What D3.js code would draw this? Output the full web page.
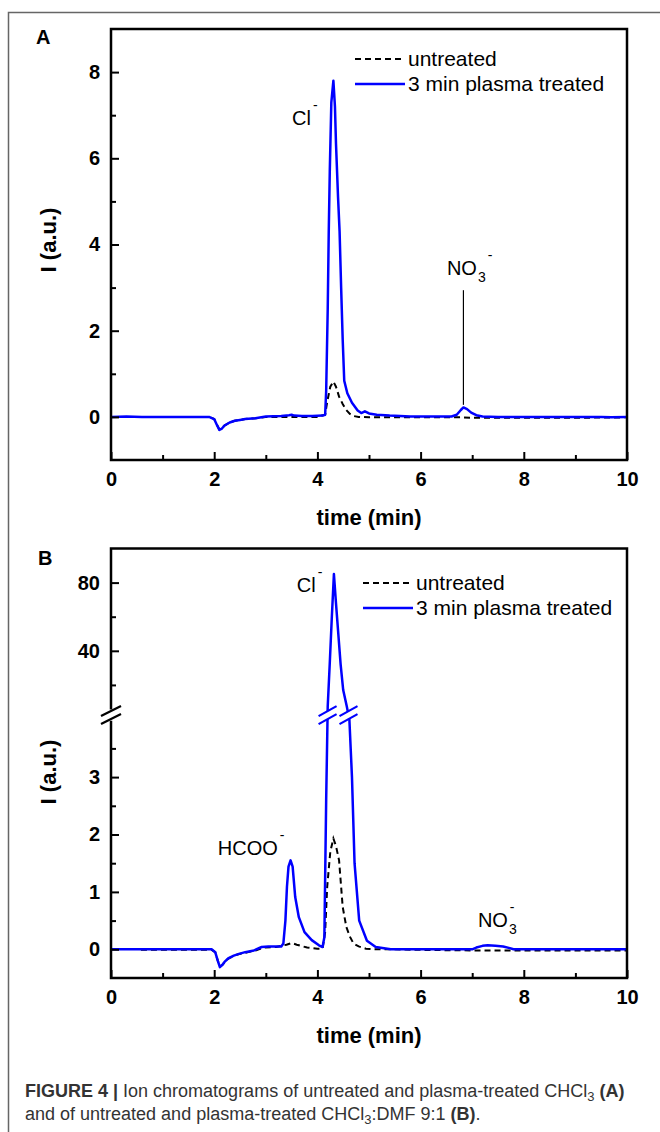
<!DOCTYPE html>
<html>
<head>
<meta charset="utf-8">
<script src="https://cdn.jsdelivr.net/npm/d3@7"></script>
<style>
  body { margin: 0; background: #fff; }
  svg { display: block; }
  text { font-family: "Liberation Sans", Arial, sans-serif; }
</style>
</head>
<body>
<div id="fig"></div>
<script>
// ticks
const xTicks = [0, 2, 4, 6, 8, 10]
const xMinor = [1, 3, 5, 7, 9]
const yTicksA = [0, 2, 4, 6, 8]
const yMinorA = [1, 3, 5, 7]
const yTicksLowB = [0, 1, 2, 3]
const yMinorLowB = [0.5, 1.5, 2.5, 3.5]
const yTicksHighB = [40, 80]
const yMinorHighB = [20, 60]

// panel A: CHCl3
const timeUntreatedA = [0, 1.9, 2.0, 2.05, 2.1, 2.15, 2.2, 2.3, 2.4, 2.5, 2.6, 2.8, 3.0, 3.5, 4.0, 4.15, 4.19, 4.25, 4.31, 4.36, 4.42, 4.49, 4.56, 4.63, 4.7, 4.8, 5.0, 5.5, 6.0, 6.5, 6.8, 7.0, 7.5, 8.0, 9.0, 10]
const untreatedA = [0, 0, -0.05, -0.18, -0.29, -0.26, -0.2, -0.13, -0.09, -0.07, -0.05, -0.03, 0, 0, 0, 0.05, 0.35, 0.7, 0.82, 0.7, 0.47, 0.3, 0.16, 0.07, 0.02, 0, -0.01, -0.01, -0.01, -0.01, -0.01, -0.02, -0.02, -0.02, -0.02, -0.01]
const timeTreatedA = [0, 0.3, 0.6, 1.0, 1.5, 1.9, 2.0, 2.05, 2.1, 2.15, 2.2, 2.3, 2.4, 2.5, 2.6, 2.8, 3.0, 3.3, 3.45, 3.5, 3.55, 3.7, 3.9, 4.1, 4.15, 4.17, 4.2, 4.22, 4.24, 4.27, 4.31, 4.34, 4.36, 4.4, 4.43, 4.46, 4.49, 4.52, 4.58, 4.67, 4.78, 4.85, 4.92, 5.0, 5.15, 5.4, 5.8, 6.2, 6.6, 6.7, 6.78, 6.83, 6.9, 6.98, 7.08, 7.2, 7.5, 8.0, 9.0, 9.5, 9.7, 10]
const treatedA = [0, 0.01, 0, 0, 0, 0, -0.05, -0.18, -0.3, -0.27, -0.2, -0.13, -0.09, -0.07, -0.05, -0.03, 0.01, 0.02, 0.04, 0.05, 0.03, 0.02, 0.02, 0.03, 0.05, 0.6, 2.5, 4.3, 5.7, 7.3, 7.8, 7.2, 6.35, 5.1, 4.3, 3.0, 1.8, 0.84, 0.55, 0.33, 0.15, 0.09, 0.13, 0.08, 0.05, 0.03, 0.01, 0.01, 0.01, 0.05, 0.16, 0.22, 0.18, 0.1, 0.04, 0.01, 0, 0, 0, 0, -0.01, 0]

// panel B: CHCl3:DMF 9:1
const timeUntreatedB = [0.58, 1.0, 1.5, 1.95, 2.02, 2.07, 2.11, 2.16, 2.22, 2.3, 2.45, 2.6, 2.8, 2.95, 3.2, 3.4, 3.5, 3.6, 3.8, 4.0, 4.1, 4.15, 4.19, 4.25, 4.31, 4.36, 4.42, 4.49, 4.56, 4.63, 4.7, 4.8, 4.94, 5.1, 5.45, 6.0, 7.0, 7.2, 7.6, 8.0, 9.0, 10]
const untreatedB = [-0.01, -0.01, -0.01, -0.01, -0.05, -0.2, -0.3, -0.27, -0.2, -0.15, -0.09, -0.06, -0.02, 0.03, 0.04, 0.08, 0.11, 0.08, 0.03, 0.01, 0.01, 0.3, 1.09, 1.7, 1.93, 1.8, 1.55, 0.74, 0.39, 0.22, 0.1, 0.05, 0.01, 0, 0, -0.01, -0.02, -0.02, -0.02, -0.02, -0.02, -0.02]
const timeTreatedB = [0, 0.5, 1.0, 1.5, 1.95, 2.02, 2.07, 2.11, 2.16, 2.2, 2.27, 2.38, 2.48, 2.6, 2.77, 2.92, 3.05, 3.2, 3.3, 3.34, 3.38, 3.41, 3.44, 3.48, 3.52, 3.57, 3.64, 3.75, 3.89, 4.03, 4.1, 4.135, 4.17, 4.2, 4.24, 4.28, 4.32, 4.36, 4.4, 4.45, 4.5, 4.57, 4.62, 4.67, 4.72, 4.81, 4.96, 5.13, 5.42, 6.0, 7.0, 7.08, 7.2, 7.3, 7.45, 7.6, 7.73, 7.8, 8.5, 9.3, 10]
const treatedB = [0, 0, 0, 0, 0, -0.05, -0.2, -0.31, -0.27, -0.22, -0.16, -0.11, -0.08, -0.05, -0.02, 0.04, 0.05, 0.05, 0.05, 0.1, 0.5, 1.09, 1.44, 1.55, 1.44, 0.91, 0.56, 0.3, 0.16, 0.07, 0.04, 0.21, 2.6, 7.3, 33, 60, 85, 68, 52, 32, 17, 7.3, 4.0, 3.0, 1.5, 0.5, 0.15, 0.04, 0, 0, 0, 0.03, 0.06, 0.07, 0.06, 0.05, 0.02, 0, 0, 0, 0]

const seriesNames = ['untreated', '3 min plasma treated']

const W = 660
const H = 1132
const blue = '#0000ff'

const svg = d3.select('#fig').append('svg')
  .attr('width', W)
  .attr('height', H)

// outer frame (left + top)
svg.append('path')
  .attr('d', `M8.5,${H} V12.5 H${W}`)
  .attr('fill', 'none')
  .attr('stroke', '#666')
  .attr('stroke-width', 1.5)

const x = d3.scaleLinear().domain([0, 10]).range([111, 627])
const yA = d3.scaleLinear().domain([-1, 9]).range([460, 29])
// broken axis: lower -0.5..4, upper 5..100
const yB = d3.scaleLinear().domain([-0.5, 4, 5, 100]).range([978, 719.7, 710.5, 548.5])

const zip = (ts, vs) => ts.map((t, i) => ({ t: t, v: vs[i] }))

function styleAxis (g, size) {
  g.select('.domain').remove()
  g.selectAll('line').attr('stroke', '#000').attr('stroke-width', 2)
  g.selectAll('text')
    .attr('font-size', size)
    .attr('font-weight', 'bold')
    .attr('font-family', '"Liberation Sans", Arial, sans-serif')
    .attr('fill', '#000')
}

function xAxes (g, y0) {
  g.append('g').attr('transform', `translate(0,${y0})`)
    .call(d3.axisBottom(x).tickValues(xTicks).tickSizeInner(-8).tickSizeOuter(0).tickPadding(12))
    .call(s => styleAxis(s, 20))
  g.append('g').attr('transform', `translate(0,${y0})`)
    .call(d3.axisBottom(x).tickValues(xMinor).tickSizeInner(-5).tickSizeOuter(0).tickFormat(''))
    .call(s => styleAxis(s, 20))
}

function yAxis (g, scale, major, minor) {
  g.append('g').attr('transform', `translate(${x.range()[0]},0)`)
    .call(d3.axisLeft(scale).tickValues(major).tickSizeInner(-8).tickSizeOuter(0).tickPadding(11).tickFormat(d3.format('d')))
    .call(s => styleAxis(s, 20))
  g.append('g').attr('transform', `translate(${x.range()[0]},0)`)
    .call(d3.axisLeft(scale).tickValues(minor).tickSizeInner(-5).tickSizeOuter(0).tickFormat(''))
    .call(s => styleAxis(s, 20))
}

function drawLines (g, id, y, untreated, treated, top, bottom) {
  svg.append('clipPath').attr('id', id)
    .append('rect')
    .attr('x', x.range()[0]).attr('y', top)
    .attr('width', x.range()[1] - x.range()[0]).attr('height', bottom - top)
  const line = d3.line().x(d => x(d.t)).y(d => y(d.v))
  const lg = g.append('g').attr('clip-path', `url(#${id})`)
  lg.append('path').datum(untreated)
    .attr('d', line)
    .attr('fill', 'none')
    .attr('stroke', '#000')
    .attr('stroke-width', 2)
    .attr('stroke-dasharray', '6,4')
  lg.append('path').datum(treated)
    .attr('d', line)
    .attr('fill', 'none')
    .attr('stroke', blue)
    .attr('stroke-width', 2.5)
    .attr('stroke-linejoin', 'round')
}

function legend (g, lx, ly, tx) {
  g.append('line')
    .attr('x1', lx).attr('x2', lx + 48).attr('y1', ly).attr('y2', ly)
    .attr('stroke', '#000').attr('stroke-width', 2).attr('stroke-dasharray', '6,4')
  g.append('line')
    .attr('x1', lx).attr('x2', tx - 3).attr('y1', ly + 25).attr('y2', ly + 25)
    .attr('stroke', blue).attr('stroke-width', 2.5)
  g.selectAll('.leg').data(seriesNames).join('text')
    .attr('x', tx)
    .attr('y', (d, i) => ly + 7 + i * 25)
    .attr('font-size', 21)
    .attr('fill', '#000')
    .text(d => d)
}

// label with optional sub / sup pieces
function ionLabel (g, px, py, base, sub, sup, stacked) {
  const t = g.append('text').attr('x', px).attr('y', py)
    .attr('font-size', 20).attr('fill', '#000')
  t.append('tspan').text(base)
  if (sub) {
    t.append('tspan').attr('font-size', 14).attr('dy', 7).attr('dx', 1).text(sub)
  }
  if (sup) {
    const dy = sub ? -22 : -15
    const dx = stacked ? -7 : 2
    t.append('tspan').attr('font-size', 14).attr('dy', dy).attr('dx', dx).text('-')
  }
}

function axisTitles (g, bottom, cy) {
  g.append('text')
    .attr('x', (x.range()[0] + x.range()[1]) / 2)
    .attr('y', bottom + 65)
    .attr('text-anchor', 'middle')
    .attr('font-size', 22).attr('font-weight', 'bold')
    .text('time (min)')
  g.append('text')
    .attr('transform', `translate(56,${cy}) rotate(-90)`)
    .attr('text-anchor', 'middle')
    .attr('font-size', 22).attr('font-weight', 'bold')
    .text('I (a.u.)')
}

// ---------- panel A ----------
const gA = svg.append('g')
drawLines(gA, 'clipA', yA, zip(timeUntreatedA, untreatedA), zip(timeTreatedA, treatedA), 29, 460)
gA.append('rect')
  .attr('x', x.range()[0]).attr('y', 29)
  .attr('width', x.range()[1] - x.range()[0]).attr('height', 460 - 29)
  .attr('fill', 'none').attr('stroke', '#000').attr('stroke-width', 2.5)
xAxes(gA, 460)
yAxis(gA, yA, yTicksA, yMinorA)
axisTitles(gA, 460, 240)
gA.append('text').attr('x', 36).attr('y', 44)
  .attr('font-size', 20).attr('font-weight', 'bold').text('A')
legend(gA, 355, 59, 408)
ionLabel(gA, x(3.51), yA(6.77), 'Cl', null, true)
ionLabel(gA, x(6.51), yA(3.29), 'NO', '3', true, false)
gA.append('line')
  .attr('x1', x(6.83)).attr('x2', x(6.83))
  .attr('y1', yA(0.28)).attr('y2', yA(2.94))
  .attr('stroke', '#000').attr('stroke-width', 1.2)

// ---------- panel B ----------
const gB = svg.append('g')
const treatedBData = zip(timeTreatedB, treatedB)
drawLines(gB, 'clipB', yB, zip(timeUntreatedB, untreatedB), treatedBData, 548.5, 978)

// break marks on the blue curve where it crosses the gap
const yGapHi = yB(5)
const yGapLo = yB(4)
const yGapMid = (yGapHi + yGapLo) / 2
const pts = treatedBData.map(d => [x(d.t), yB(d.v)])
const crossings = []
for (let i = 1; i < pts.length; i++) {
  const [x0, y0] = pts[i - 1]
  const [x1, y1] = pts[i]
  if ((y0 - yGapMid) * (y1 - yGapMid) < 0) {
    crossings.push(x0 + (x1 - x0) * (yGapMid - y0) / (y1 - y0))
  }
}
function breakMark (g, cx, cy, color, half) {
  g.append('path')
    .attr('d', `M${cx - half},${cy - 4 + 5} L${cx + half},${cy - 4 - 5} L${cx + half},${cy + 4 - 5} L${cx - half},${cy + 4 + 5} Z`)
    .attr('fill', '#fff')
  ;[-4, 4].forEach(o => {
    g.append('line')
      .attr('x1', cx - half).attr('y1', cy + o + 5)
      .attr('x2', cx + half).attr('y2', cy + o - 5)
      .attr('stroke', color).attr('stroke-width', 2.2)
  })
}
crossings.forEach(cx => breakMark(gB, cx, yGapMid, blue, 9))

// box with interrupted left side
const bx0 = x.range()[0]
const bx1 = x.range()[1]
gB.append('path')
  .attr('d', `M${bx0},${yGapHi - 1} V548.5 H${bx1} V978 H${bx0} V${yGapLo + 1}`)
  .attr('fill', 'none').attr('stroke', '#000').attr('stroke-width', 2.5)
breakMark(gB, bx0, yGapMid, '#000', 10)
xAxes(gB, 978)
yAxis(gB, yB, yTicksLowB, yMinorLowB)
yAxis(gB, yB, yTicksHighB, yMinorHighB)
axisTitles(gB, 978, 772)
gB.append('text').attr('x', 38).attr('y', 565)
  .attr('font-size', 20).attr('font-weight', 'bold').text('B')
legend(gB, 363, 583, 416)
ionLabel(gB, x(3.6), yB(74.7), 'Cl', null, true)
ionLabel(gB, x(2.07), yB(1.64), 'HCOO', null, true)
ionLabel(gB, x(7.11), yB(0.38), 'NO', '3', true, true)

// ---------- caption ----------
const cap = svg.append('g').attr('fill', '#333').attr('font-size', 18)
const c1 = cap.append('text').attr('x', 25).attr('y', 1097)
c1.append('tspan').attr('font-weight', 'bold').text('FIGURE 4 |')
c1.append('tspan').text(' Ion chromatograms of untreated and plasma-treated CHCl')
c1.append('tspan').attr('font-size', 13).attr('dy', 4).text('3')
c1.append('tspan').attr('dy', -4).text(' ')
c1.append('tspan').attr('font-weight', 'bold').text('(A)')
const c2 = cap.append('text').attr('x', 25).attr('y', 1120)
c2.append('tspan').text('and of untreated and plasma-treated CHCl')
c2.append('tspan').attr('font-size', 13).attr('dy', 4).text('3')
c2.append('tspan').attr('dy', -4).text(':DMF 9:1 ')
c2.append('tspan').attr('font-weight', 'bold').text('(B)')
c2.append('tspan').text('.')
</script>
</body>
</html>
